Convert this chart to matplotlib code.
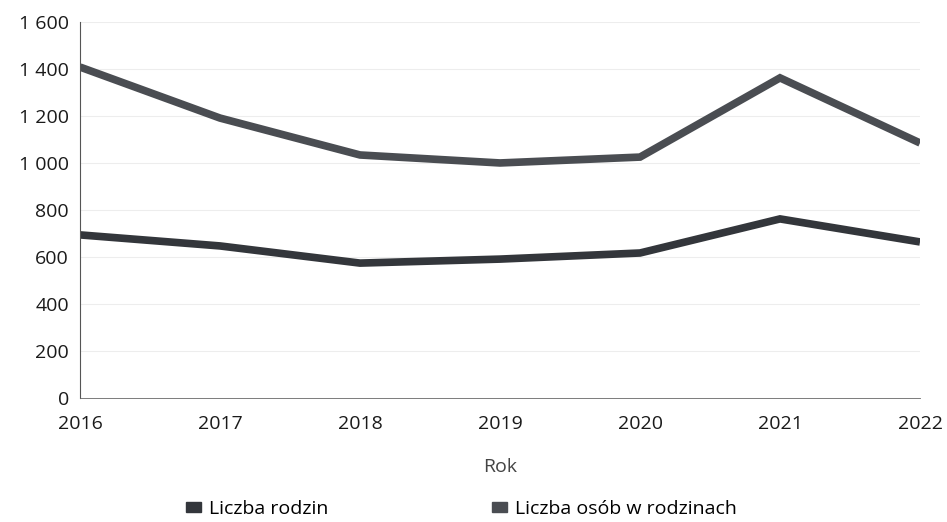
import matplotlib
matplotlib.use("Agg")
import matplotlib.pyplot as plt
from matplotlib.patches import Patch
from matplotlib.ticker import FuncFormatter

years = [2016, 2017, 2018, 2019, 2020, 2021, 2022]
rodzin = [694, 647, 574, 591, 617, 762, 664]
osob = [1408, 1191, 1034, 1000, 1025, 1362, 1085]

label_rodzin = "Liczba rodzin"
label_osob = "Liczba osób w rodzinach"
col_rodzin = "#33363b"
col_osob = "#4a4d52"

plt.rcParams['font.family'] = ['Open Sans', 'DejaVu Sans']

fig = plt.figure(figsize=(9.47, 5.22), dpi=100)
ax = fig.add_axes([0.0845, 0.2375, 0.887, 0.7205])

ax.plot(years, osob, color=col_osob, lw=5.5, solid_capstyle='butt', solid_joinstyle='miter')
ax.plot(years, rodzin, color=col_rodzin, lw=5.5, solid_capstyle='butt', solid_joinstyle='miter')

ax.set_xlim(2016, 2022)
ax.set_ylim(0, 1600)
ax.set_yticks(range(0, 1601, 200))
ax.set_xticks(years)
ax.yaxis.set_major_formatter(FuncFormatter(lambda v, p: f"{int(v):,}".replace(",", " ")))
ax.tick_params(length=0, labelsize=14, colors="#1a1a1a")
ax.tick_params(axis='y', pad=8)
ax.tick_params(axis='x', pad=12)

ax.grid(axis='y', color="#ededed", lw=0.8)
ax.set_axisbelow(True)
for s in ['top', 'right']:
    ax.spines[s].set_visible(False)
ax.spines['left'].set_color("#555555")
ax.spines['left'].set_linewidth(0.8)
ax.spines['bottom'].set_color("#666666")
ax.spines['bottom'].set_linewidth(0.6)

ax.set_xlabel("Rok", fontsize=14, color="#444444", labelpad=18)

handles = [Patch(color=col_rodzin, label=label_rodzin),
           Patch(color=col_osob, label=label_osob)]
fig.legend(handles=handles, loc='center', bbox_to_anchor=(0.487, 0.025), ncol=2,
           frameon=False, fontsize=14, handlelength=0.8, handleheight=0.35,
           handletextpad=0.4, columnspacing=8.4)

fig.savefig("out.png", dpi=100)
